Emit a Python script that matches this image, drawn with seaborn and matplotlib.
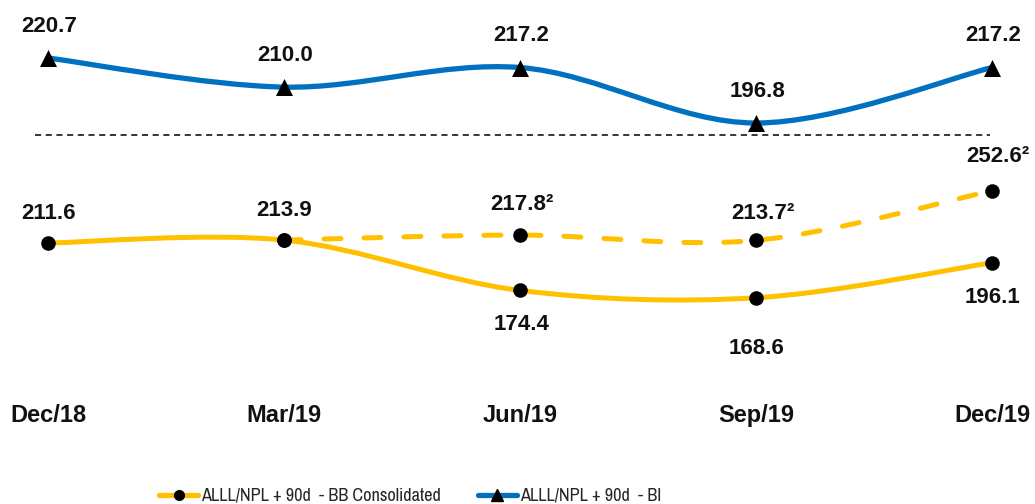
import numpy as np
import pandas as pd
import seaborn as sns
import matplotlib
matplotlib.use("Agg")
import matplotlib.pyplot as plt
from matplotlib.path import Path
from matplotlib.patches import PathPatch
from matplotlib.lines import Line2D

# ---------------- data ----------------
quarters = ["Dec/18", "Mar/19", "Jun/19", "Sep/19", "Dec/19"]
bi_values = [220.7, 210.0, 217.2, 196.8, 217.2]
bb_values = [211.6, 213.9, 174.4, 168.6, 196.1]
bb_adj_quarters = ["Mar/19", "Jun/19", "Sep/19", "Dec/19"]
bb_adj_values = [213.9, 217.8, 213.7, 252.6]
legend_labels = ["ALLL/NPL + 90d  - BB Consolidated", "ALLL/NPL + 90d  - BI"]

BLUE = "#0070C0"
YELLOW = "#FFC000"

sns.set_theme(style="white")
plt.rcParams["font.family"] = ["Liberation Sans", "DejaVu Sans"]

W, H = 1035, 504
fig = plt.figure(figsize=(W / 100, H / 100), dpi=100)
ax = fig.add_axes([0, 104 / H, 1, 400 / H])
ax.patch.set_alpha(0)
ax2 = ax.twinx()
ax2.patch.set_alpha(0)

x_all = np.arange(len(quarters))
x_adj = np.array([quarters.index(q) for q in bb_adj_quarters])

df_bi = pd.DataFrame({"x": x_all, "v": bi_values})
df_bb = pd.DataFrame({"x": x_all, "v": bb_values})
df_adj = pd.DataFrame({"x": x_adj, "v": bb_adj_values})


def smooth_path(xs, ys):
    P = np.column_stack([xs, ys]).astype(float)
    n = len(P)
    verts = [P[0]]
    codes = [Path.MOVETO]
    for i in range(n - 1):
        p_prev = P[i - 1] if i > 0 else P[i]
        p_next = P[i + 2] if i + 2 < n else P[i + 1]
        c1 = P[i] + (P[i + 1] - p_prev) / 6.0
        c2 = P[i + 1] - (p_next - P[i]) / 6.0
        verts += [c1, c2, P[i + 1]]
        codes += [Path.CURVE4] * 3
    return Path(verts, codes)


# smooth lines
ax2.add_patch(PathPatch(smooth_path(df_bi["x"], df_bi["v"]), fill=False,
                        edgecolor=BLUE, lw=3.8, capstyle="butt", zorder=2))
ax.add_patch(PathPatch(smooth_path(df_bb["x"], df_bb["v"]), fill=False,
                       edgecolor=YELLOW, lw=3.6, capstyle="butt", zorder=2))
ax.add_patch(PathPatch(smooth_path(df_adj["x"], df_adj["v"]), fill=False,
                       edgecolor=YELLOW, lw=3.6, capstyle="round", zorder=2,
                       linestyle=(0, (3.4, 4.6))))

# markers
sns.scatterplot(data=df_bi, x="x", y="v", marker="^", s=150, color="black",
                linewidth=0, ax=ax2, zorder=5, legend=False)
sns.scatterplot(data=df_bb, x="x", y="v", marker="o", s=110, color="black",
                linewidth=0, ax=ax, zorder=5, legend=False)
sns.scatterplot(data=df_adj, x="x", y="v", marker="o", s=110, color="black",
                linewidth=0, ax=ax, zorder=5, legend=False)

# limits (layout)
for a in (ax, ax2):
    a.set_xlim(-0.2034, 4.182)
ax.set_ylim(88.35, 402.37)
ax2.set_ylim(94.95, 242.03)

# value labels
px = 0.72  # px -> pt
lab_kw = dict(textcoords="offset points", ha="center", va="center",
              fontsize=16, fontweight="bold", color="#111111", zorder=6)
for xi, v in zip(x_all, bi_values):
    ax2.annotate(f"{v:.1f}", (xi, v), xytext=(1 * px, 32 * px), **lab_kw)

bb_off = [(0, 30), (0, 30), (2, -34), (0, -51), (0, -35)]
for xi, v, (dx, dy) in zip(x_all, bb_values, bb_off):
    ax.annotate(f"{v:.1f}", (xi, v), xytext=(dx * px, dy * px), **lab_kw)

adj_off = [(2, 31), (7, 27), (6, 34)]
for xi, v, (dx, dy) in zip(x_adj[1:], bb_adj_values[1:], adj_off):
    ax.annotate(f"{v:.1f}\u00b2", (xi, v), xytext=(dx * px, dy * px), **lab_kw)

# axes cosmetics
ax.set_xticks(x_all)
ax.set_xticklabels(quarters, fontsize=17, fontweight="bold", color="#111111")
ax.tick_params(axis="x", length=0, pad=3)
ax.set_yticks([])
ax2.set_yticks([])
ax.set_xlabel("")
ax.set_ylabel("")
ax2.set_ylabel("")
for a in (ax, ax2):
    for s in a.spines.values():
        s.set_visible(False)

# dashed separator
fig.add_artist(Line2D([35 / W, 990 / W], [1 - 135 / H, 1 - 135 / H],
                      transform=fig.transFigure, color="black", lw=1.1,
                      linestyle=(0, (4, 3))))

# legend
handles = [
    Line2D([], [], color=YELLOW, lw=3.8, marker="o", markersize=7,
           markerfacecolor="black", markeredgecolor="black", solid_capstyle="round"),
    Line2D([], [], color=BLUE, lw=3.8, marker="^", markersize=8,
           markerfacecolor="black", markeredgecolor="black", solid_capstyle="round"),
]
fig.legend(handles, legend_labels, loc="center", bbox_to_anchor=(410 / W, 1 - 496 / H),
           ncol=2, frameon=False, handlelength=2.15,
           prop={"family": ["Archivo Narrow", "Roboto Condensed", "Liberation Sans"], "size": 13.2},
           handletextpad=0.15, columnspacing=2.0, borderaxespad=0, borderpad=0)

fig.savefig("out.png", dpi=100)
